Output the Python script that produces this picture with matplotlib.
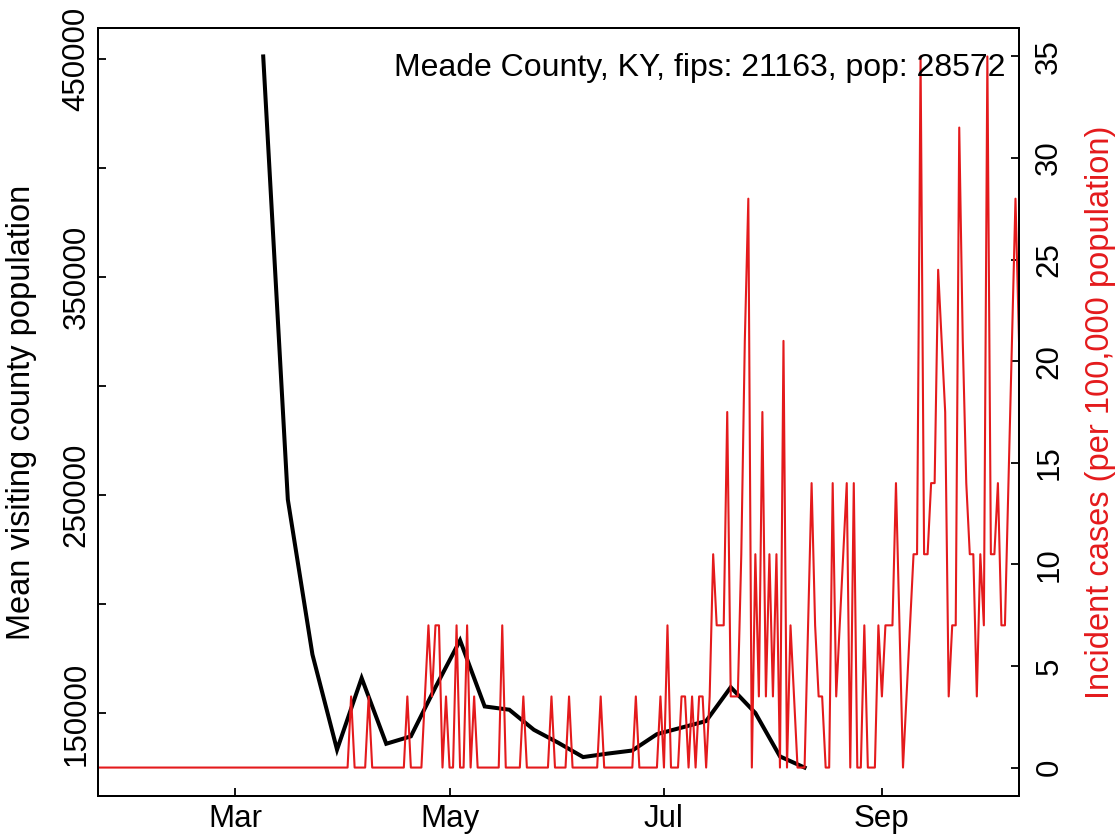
import matplotlib
matplotlib.use("Agg")
import matplotlib.pyplot as plt
import matplotlib.dates as mdates
import numpy as np
import pandas as pd

# ---------------- data ----------------
county_label = "Meade County, KY, fips: 21163, pop: 28572"
population = 28572
case_start = "2020-01-22"

# daily incident case counts, starting 2020-01-22
daily_cases = (
    [0] * 72 +                      # Jan 22 - Apr 2
    [1, 0, 0, 0, 0, 1] +            # d72-77
    [0] * 10 +                      # d78-87
    [1, 0, 0, 0, 0, 1, 2, 1, 2, 2,  # d88-97
     0, 1, 0, 0, 2, 0, 0, 2, 0, 1,  # d98-107
     0, 0, 0, 0, 0, 0, 0, 2, 0, 0,  # d108-117
     0, 0, 0, 1, 0, 0, 0, 0, 0, 0,  # d118-127
     0, 1, 0, 0, 0, 0, 1, 0, 0, 0,  # d128-137
     0, 0, 0, 0, 0, 1, 0, 0, 0, 0,  # d138-147
     0, 0, 0, 0, 0, 1, 0, 0, 0, 0,  # d148-157
     0, 0, 1, 0, 2, 0, 0, 0, 1, 1,  # d158-167
     0, 1, 0, 1, 1, 0, 1, 3, 2, 2,  # d168-177
     2, 5, 1, 1, 1, 3, 6, 8, 0, 3,  # d178-187
     1, 5, 1, 3, 1, 3, 0, 6, 0, 2,  # d188-197
     1, 0, 0, 0, 2, 4, 2, 1, 1, 0,  # d198-207
     0, 4, 1, 2, 3, 4, 0, 4, 0, 0,  # d208-217
     2, 0, 0, 0, 2, 1, 2, 2, 2, 4,  # d218-227
     2, 0, 1, 2, 3, 3, 10, 3, 3, 4, # d228-237
     4, 7, 6, 5, 1, 2, 2, 9, 6, 4,  # d238-247
     3, 3, 1, 3, 2, 10, 3, 3, 4, 2, # d248-257
     2, 4, 6, 8, 6]                 # d258-262
)

# weekly mean visiting county population
visit_start = "2020-03-09"
visit_population = [451000, 248000, 177000, 133400, 166200, 136100, 139500,
                    162000, 183500, 153200, 151700, 142500, 136500, 130000,
                    131600, 133000, 140500, 143500, 146500, 162000, 150200,
                    130300, 125200]

left_ticks = [150000, 200000, 250000, 300000, 350000, 400000, 450000]
left_labels = ["150000", "", "250000", "", "350000", "", "450000"]
right_ticks = [0, 5, 10, 15, 20, 25, 30, 35]
month_ticks = ["2020-03-01", "2020-05-01", "2020-07-01", "2020-09-01"]

# ---------------- derived ----------------
case_dates = pd.date_range(case_start, periods=len(daily_cases), freq="D")
incidence = np.array(daily_cases) * 1e5 / population
visit_dates = pd.date_range(visit_start, periods=len(visit_population), freq="7D")

RED = "#E41A1C"
FONT = ["Liberation Sans", "DejaVu Sans"]
plt.rcParams["font.family"] = FONT
FS_TICK = 22.5
FS_LAB = 23.5
FS_TITLE = 23

W, H = 1119, 839
fig = plt.figure(figsize=(W / 100, H / 100), dpi=100)
ax = fig.add_axes([98 / W, 1 - 796 / H, (1019 - 98) / W, (796 - 28) / H])

ax.plot(visit_dates, visit_population, color="black", lw=2.9, solid_joinstyle="miter")
ax.set_xlim(case_dates[0], case_dates[-1])
ax.margins(y=0.04)
ax.set_yticks(left_ticks)
ax.set_yticklabels(left_labels)
ax.set_xticks(pd.to_datetime(month_ticks))
ax.xaxis.set_major_formatter(mdates.DateFormatter("%b"))

ax2 = ax.twinx()
ax2.plot(case_dates, incidence, color=RED, lw=1.5)
ax2.set_xlim(case_dates[0], case_dates[-1])
ax2.margins(y=0.04)
ax2.set_yticks(right_ticks)

for a in (ax, ax2):
    for s in a.spines.values():
        s.set_linewidth(1.4)
        s.set_color("black")

ax.tick_params(axis="both", direction="in", length=6, width=1.3, labelsize=FS_TICK)
ax.tick_params(axis="x", pad=5.8)
ax.tick_params(axis="y", pad=4.5)
ax2.tick_params(axis="y", direction="in", length=6, width=1.3, labelsize=FS_TICK, pad=11)

for lbl in ax.get_yticklabels():
    lbl.set_rotation(90)
    lbl.set_va("center")
for lbl in ax2.get_yticklabels():
    lbl.set_rotation(90)
    lbl.set_va("center")

fig.text(22 / W, 1 - 412 / H, "Mean visiting county population", rotation=90,
         ha="center", va="center", fontsize=FS_LAB)
fig.text(1101 / W, 1 - 412 / H, "Incident cases (per 100,000 population)",
         rotation=90, ha="center", va="center", fontsize=FS_LAB, color=RED)
fig.text(1006 / W, 1 - 68 / H, county_label, ha="right", va="center", fontsize=FS_TITLE)

fig.savefig("out.png", dpi=100)
